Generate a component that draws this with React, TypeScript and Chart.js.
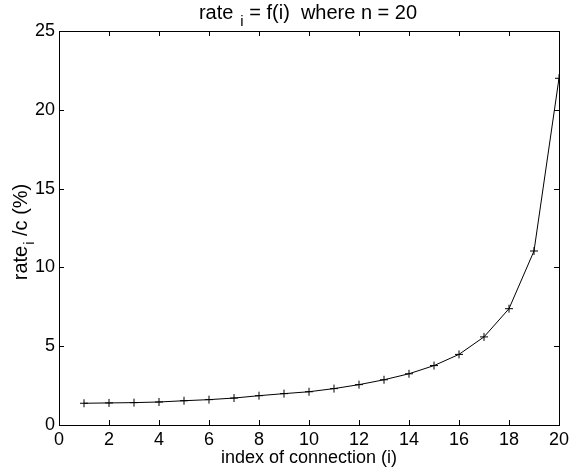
import { useEffect, useRef } from "react";
import { Chart, registerables } from "chart.js";

Chart.register(...registerables);

// Connection index i and the relative rate of each connection (rate_i / c, in %)
const connectionIndex = [1, 2, 3, 4, 5, 6, 7, 8, 9, 10, 11, 12, 13, 14, 15, 16, 17, 18, 19, 20];
const ratePercent = [
  1.38, 1.4, 1.42, 1.46, 1.54, 1.61, 1.71, 1.86, 1.99, 2.11,
  2.31, 2.56, 2.87, 3.25, 3.77, 4.48, 5.59, 7.38, 11.04, 22.0,
];
const xTickValues = [0, 2, 4, 6, 8, 10, 12, 14, 16, 18, 20];
const yTickValues = [0, 5, 10, 15, 20, 25];

const titleParts = { main: "rate", sub: "i", rest: " = f(i)  where n = 20" };
const yLabelParts = { main: "rate", sub: "i", rest: " /c (%)" };
const xLabelText = "index of connection (i)";

const FONT = "Liberation Sans, Arial, Helvetica, sans-serif";
const FONT_SIZE = 18;
const LABEL_SIZE = 20;
const SUB_SIZE = 15;
const SUB_DROP = 7;
const TICK_LEN = 5;

// Draws a string with a subscript part, centred horizontally at x (local coordinates).
function drawSubscripted(
  ctx: CanvasRenderingContext2D,
  parts: { main: string; sub: string; rest: string },
  x: number,
  y: number,
  gapBefore: number,
  gapAfter: number
) {
  ctx.font = `${LABEL_SIZE}px ${FONT}`;
  const wMain = ctx.measureText(parts.main).width;
  const wRest = ctx.measureText(parts.rest).width;
  ctx.font = `${SUB_SIZE}px ${FONT}`;
  const wSub = ctx.measureText(parts.sub).width;
  const total = wMain + gapBefore + wSub + gapAfter + wRest;
  let cx = x - total / 2;
  ctx.textAlign = "left";
  ctx.textBaseline = "alphabetic";
  ctx.font = `${LABEL_SIZE}px ${FONT}`;
  ctx.fillText(parts.main, cx, y);
  cx += wMain + gapBefore;
  ctx.font = `${SUB_SIZE}px ${FONT}`;
  ctx.fillText(parts.sub, cx, y + SUB_DROP);
  cx += wSub + gapAfter;
  ctx.font = `${LABEL_SIZE}px ${FONT}`;
  ctx.fillText(parts.rest, cx, y);
}

const framePlugin = {
  id: "matlabFrame",
  afterDraw(chart: Chart) {
    const { ctx, chartArea } = chart;
    const { left, right, top, bottom } = chartArea;
    const xs = chart.scales.x;
    const ys = chart.scales.y;
    ctx.save();
    ctx.strokeStyle = "#000";
    ctx.lineWidth = 1;
    ctx.strokeRect(left + 0.5, top + 0.5, right - left, bottom - top);

    ctx.beginPath();
    for (const v of xTickValues) {
      const px = Math.round(xs.getPixelForValue(v)) + 0.5;
      ctx.moveTo(px, bottom);
      ctx.lineTo(px, bottom - TICK_LEN);
      ctx.moveTo(px, top);
      ctx.lineTo(px, top + TICK_LEN);
    }
    for (const v of yTickValues) {
      const py = Math.round(ys.getPixelForValue(v)) + 0.5;
      ctx.moveTo(left, py);
      ctx.lineTo(left + TICK_LEN, py);
      ctx.moveTo(right, py);
      ctx.lineTo(right - TICK_LEN, py);
    }
    ctx.stroke();

    ctx.fillStyle = "#000";
    const midX = (left + right) / 2;
    // title
    drawSubscripted(ctx, titleParts, midX - 1, 19, 7, 0);
    // x axis label
    ctx.font = `${FONT_SIZE}px ${FONT}`;
    ctx.textAlign = "center";
    ctx.textBaseline = "alphabetic";
    ctx.fillText(xLabelText, midX, 463);
    // y axis label, rotated
    ctx.translate(27, 232);
    ctx.rotate(-Math.PI / 2);
    drawSubscripted(ctx, yLabelParts, 0, 0, 1, 0);
    ctx.restore();
  },
};

export default function App() {
  const canvasRef = useRef<HTMLCanvasElement | null>(null);

  useEffect(() => {
    if (!canvasRef.current) return;
    const chart = new Chart(canvasRef.current, {
      type: "line",
      data: {
        datasets: [
          {
            data: connectionIndex.map((x, k) => ({ x, y: ratePercent[k] })),
            borderColor: "#000",
            borderWidth: 1,
            backgroundColor: "#000",
            pointStyle: "cross",
            pointRadius: 4,
            pointBorderWidth: 1,
            pointBorderColor: "#000",
            tension: 0,
            fill: false,
          },
        ],
      },
      options: {
        responsive: false,
        animation: false,
        events: [],
        layout: { padding: { left: 0, right: 16, top: 31, bottom: 0 } },
        plugins: {
          legend: { display: false },
          tooltip: { enabled: false },
          title: { display: false },
        },
        scales: {
          x: {
            type: "linear",
            min: 0,
            max: 20,
            afterBuildTicks: (scale: any) => {
              scale.ticks = xTickValues.map((value) => ({ value }));
            },
            afterFit: (scale: any) => {
              scale.height = 51;
            },
            grid: { display: false, drawTicks: false },
            border: { display: false },
            ticks: {
              color: "#000",
              padding: 4,
              maxRotation: 0,
              autoSkip: false,
              font: { family: FONT, size: FONT_SIZE },
            },
          },
          y: {
            type: "linear",
            min: 0,
            max: 25,
            afterBuildTicks: (scale: any) => {
              scale.ticks = yTickValues.map((value) => ({ value }));
            },
            afterFit: (scale: any) => {
              scale.width = 59;
            },
            grid: { display: false, drawTicks: false },
            border: { display: false },
            ticks: {
              color: "#000",
              padding: 4,
              autoSkip: false,
              font: { family: FONT, size: FONT_SIZE },
            },
          },
        },
      },
      plugins: [framePlugin],
    });
    return () => chart.destroy();
  }, []);

  return (
    <div style={{ position: "fixed", left: 0, top: 0, width: 575, height: 476, background: "#fff" }}>
      <canvas ref={canvasRef} width={575} height={476} />
    </div>
  );
}
